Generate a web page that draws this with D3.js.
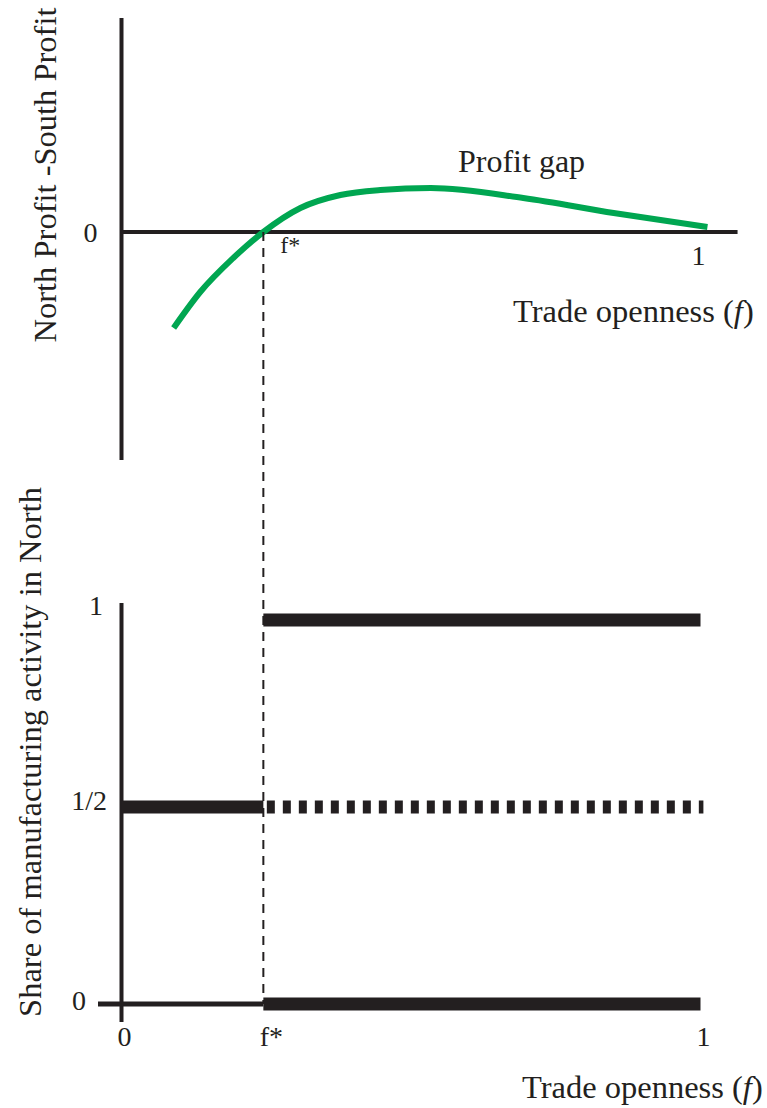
<!DOCTYPE html>
<html>
<head>
<meta charset="utf-8">
<script src="https://cdn.jsdelivr.net/npm/d3@7"></script>
<style>
	body { margin: 0; background: #fff; }
	text { font-family: 'Liberation Serif', 'Times New Roman', serif; fill: #231f20; }
</style>
</head>
<body>
<div id="chart"></div>
<script>
// profit gap curve (trade openness f, north minus south profit)
const gapF = [0.09, 0.136, 0.193, 0.245, 0.309, 0.378, 0.447, 0.534, 0.694, 0.85, 1.012];
const gapValue = [-0.96, -0.6, -0.26, 0, 0.24, 0.37, 0.42, 0.44, 0.34, 0.19, 0.05];
const fStar = 0.245;

// share of manufacturing in North
const shareLevels = [0, 0.5, 1];
const shareTickLabels = ['0', '1/2', '1'];
const xTickValues = [0, fStar, 1];
const xTickLabels = ['0', 'f*', '1'];

const W = 767, H = 1108;
const ink = '#231f20';
const green = '#00a651';

const svg = d3.select('#chart').append('svg').attr('width', W).attr('height', H);

const x = d3.scaleLinear().domain([0, 1]).range([121.5, 700.5]);

// ---------- top panel ----------
const yTop = d3.scaleLinear().domain([-2.28, 2.14]).range([460, 18]);

svg.append('line')
	.attr('x1', x(0)).attr('x2', x(0))
	.attr('y1', yTop(2.14)).attr('y2', yTop(-2.28))
	.attr('stroke', ink).attr('stroke-width', 4);

svg.append('line')
	.attr('x1', x(0)).attr('x2', x(1.064))
	.attr('y1', yTop(0)).attr('y2', yTop(0))
	.attr('stroke', ink).attr('stroke-width', 4);

const gapData = gapF.map((f, i) => ({ f, v: gapValue[i] }));
svg.append('path')
	.datum(gapData)
	.attr('fill', 'none')
	.attr('stroke', green)
	.attr('stroke-width', 6)
	.attr('d', d3.line().x((d) => x(d.f)).y((d) => yTop(d.v)).curve(d3.curveMonotoneX));

svg.append('text').attr('x', x(0) - 31).attr('y', yTop(0) + 10)
	.attr('text-anchor', 'middle').style('font-size', '28px').text('0');
svg.append('text').attr('x', x(fStar) + 17).attr('y', yTop(0) + 21)
	.style('font-size', '24px').text('f*');
svg.append('text').attr('x', x(1) - 2).attr('y', yTop(0) + 33)
	.attr('text-anchor', 'middle').style('font-size', '28px').text('1');

svg.append('text').attr('x', 458).attr('y', 172).style('font-size', '32px').text('Profit gap');

const tt1 = svg.append('text').attr('x', 513).attr('y', 322).style('font-size', '32.5px');
tt1.append('tspan').text('Trade openness (');
tt1.append('tspan').style('font-style', 'italic').text('f');
tt1.append('tspan').text(')');

svg.append('text')
	.attr('transform', 'translate(56,175) rotate(-90)')
	.attr('text-anchor', 'middle')
	.style('font-size', '32.5px')
	.text('North Profit -South Profit');

// ---------- bottom panel ----------
const yBot = d3.scaleLinear().domain(shareLevels).range([1004, 807, 620]);

// f* guide
svg.append('line')
	.attr('x1', x(fStar)).attr('x2', x(fStar))
	.attr('y1', yTop(0)).attr('y2', yBot(0))
	.attr('stroke', ink).attr('stroke-width', 2)
	.attr('stroke-dasharray', '9,7');

svg.append('line')
	.attr('x1', x(0)).attr('x2', x(0))
	.attr('y1', 603).attr('y2', 1022)
	.attr('stroke', ink).attr('stroke-width', 4);

svg.append('line')
	.attr('x1', 98).attr('x2', x(fStar))
	.attr('y1', yBot(0)).attr('y2', yBot(0))
	.attr('stroke', ink).attr('stroke-width', 5);

// equilibria: solid = stable, dashed = unstable
const segments = [
	{ f0: 0, f1: fStar, s: 0.5, dash: null },
	{ f0: fStar, f1: 1, s: 1, dash: null },
	{ f0: fStar, f1: 1, s: 0, dash: null },
	{ f0: fStar + 0.006, f1: 1.005, s: 0.5, dash: '8,8' }
];
svg.selectAll('.eq')
	.data(segments)
	.enter()
	.append('line')
	.attr('class', 'eq')
	.attr('x1', (d) => x(d.f0)).attr('x2', (d) => x(d.f1))
	.attr('y1', (d) => yBot(d.s)).attr('y2', (d) => yBot(d.s))
	.attr('stroke', ink).attr('stroke-width', 13)
	.attr('stroke-dasharray', (d) => d.dash);

svg.selectAll('.ytick')
	.data(shareLevels)
	.enter()
	.append('text')
	.attr('class', 'ytick')
	.attr('x', (d) => (d === 0 ? 86 : d === 1 ? 103 : 107))
	.attr('y', (d) => yBot(d) + (d === 0 ? 6 : d === 1 ? -5 : 3))
	.attr('text-anchor', 'end')
	.style('font-size', '28px')
	.text((d, i) => shareTickLabels[i]);

svg.selectAll('.xtick')
	.data(xTickValues)
	.enter()
	.append('text')
	.attr('class', 'xtick')
	.attr('x', (d) => x(d) + (d === fStar ? 8 : 3))
	.attr('y', 1046)
	.attr('text-anchor', 'middle')
	.style('font-size', '28px')
	.text((d, i) => xTickLabels[i]);

const tt2 = svg.append('text').attr('x', 522).attr('y', 1098).style('font-size', '32.5px');
tt2.append('tspan').text('Trade openness (');
tt2.append('tspan').style('font-style', 'italic').text('f');
tt2.append('tspan').text(')');

svg.append('text')
	.attr('transform', 'translate(41,752) rotate(-90)')
	.attr('text-anchor', 'middle')
	.style('font-size', '32.5px')
	.text('Share of manufacturing activity in North');
</script>
</body>
</html>
